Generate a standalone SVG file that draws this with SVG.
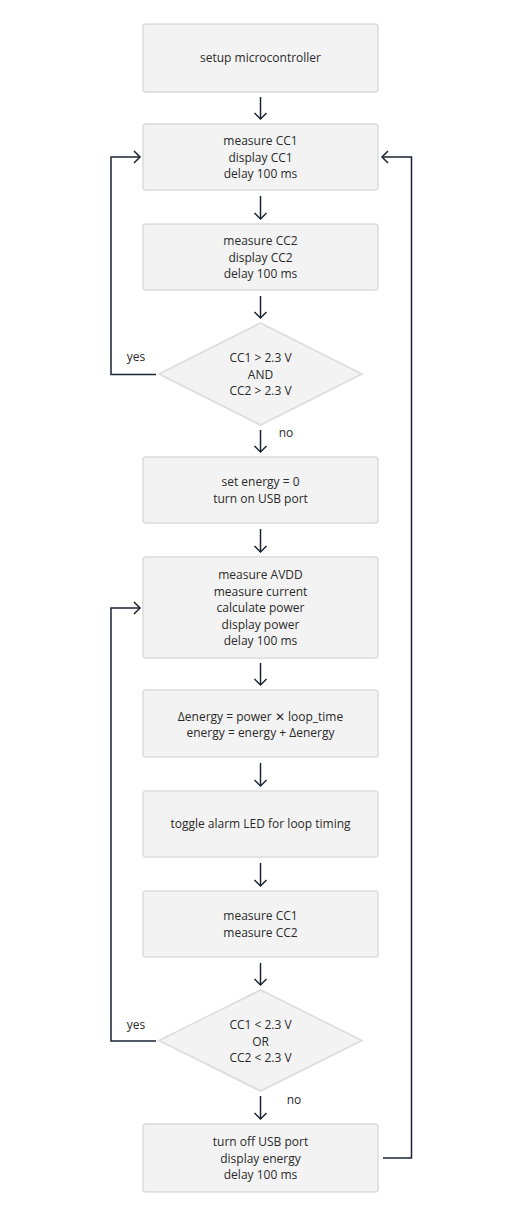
<svg xmlns="http://www.w3.org/2000/svg" width="518" height="1222" viewBox="0 0 518 1222">
<style>
.box{fill:#f3f3f3;stroke:#dcdcdc;stroke-width:1.6}
.t{font-family:"Open Sans","Noto Sans",sans-serif;font-size:12px;fill:#2a2a2a;text-anchor:middle}
.l{fill:none;stroke:#1b2433;stroke-width:1.5}
</style>
<defs>
<marker id="ah" markerUnits="userSpaceOnUse" markerWidth="16" markerHeight="16" viewBox="-8 -8 16 16" refX="0" refY="0" orient="auto">
<path d="M-6,-6 L0,0 L-6,6" fill="none" stroke="#1b2433" stroke-width="1.5"/>
</marker>
</defs>
<rect width="518" height="1222" fill="#fff"/>
<g id="n1"><rect class="box" x="143" y="24" width="235" height="68" rx="3"/><text class="t" x="260.5" y="62">setup microcontroller</text></g>
<g id="n2"><rect class="box" x="143" y="124" width="235" height="66" rx="3"/><text class="t" x="260.5" y="145">measure CC1</text><text class="t" x="260.5" y="161.5">display CC1</text><text class="t" x="260.5" y="178">delay 100 ms</text></g>
<g id="n3"><rect class="box" x="143" y="224" width="235" height="66" rx="3"/><text class="t" x="260.5" y="245">measure CC2</text><text class="t" x="260.5" y="261.5">display CC2</text><text class="t" x="260.5" y="278">delay 100 ms</text></g>
<g id="d1"><polygon class="box" points="260.5,323 362,374 260.5,425 159,374"/><text class="t" x="260.5" y="362">CC1 &gt; 2.3 V</text><text class="t" x="260.5" y="378.5">AND</text><text class="t" x="260.5" y="395">CC2 &gt; 2.3 V</text></g>
<g id="n4"><rect class="box" x="143" y="457" width="235" height="66" rx="3"/><text class="t" x="260.5" y="486">set energy = 0</text><text class="t" x="260.5" y="502.5">turn on USB port</text></g>
<g id="n5"><rect class="box" x="143" y="557" width="235" height="101" rx="3"/><text class="t" x="260.5" y="579">measure AVDD</text><text class="t" x="260.5" y="595.5">measure current</text><text class="t" x="260.5" y="612">calculate power</text><text class="t" x="260.5" y="628.5">display power</text><text class="t" x="260.5" y="645">delay 100 ms</text></g>
<g id="n6"><rect class="box" x="143" y="690" width="235" height="67" rx="3"/><text class="t" x="260.5" y="720.5">Δenergy = power ✕ loop_time</text><text class="t" x="260.5" y="737">energy = energy + Δenergy</text></g>
<g id="n7"><rect class="box" x="143" y="791" width="235" height="66" rx="3"/><text class="t" x="260.5" y="828">toggle alarm LED for loop timing</text></g>
<g id="n8"><rect class="box" x="143" y="891" width="235" height="66" rx="3"/><text class="t" x="260.5" y="920">measure CC1</text><text class="t" x="260.5" y="936.5">measure CC2</text></g>
<g id="d2"><polygon class="box" points="260.5,990 362,1040.5 260.5,1091 159,1040.5"/><text class="t" x="260.5" y="1029">CC1 &lt; 2.3 V</text><text class="t" x="260.5" y="1045.5">OR</text><text class="t" x="260.5" y="1062">CC2 &lt; 2.3 V</text></g>
<g id="n9"><rect class="box" x="143" y="1124" width="235" height="68" rx="3"/><text class="t" x="260.5" y="1146">turn off USB port</text><text class="t" x="260.5" y="1162.5">display energy</text><text class="t" x="260.5" y="1179">delay 100 ms</text></g>
<g id="connectors">
<line class="l" x1="260.5" y1="97" x2="260.5" y2="119" marker-end="url(#ah)"/>
<line class="l" x1="260.5" y1="196" x2="260.5" y2="219" marker-end="url(#ah)"/>
<line class="l" x1="260.5" y1="296" x2="260.5" y2="318" marker-end="url(#ah)"/>
<line class="l" x1="260.5" y1="430" x2="260.5" y2="452" marker-end="url(#ah)"/>
<line class="l" x1="260.5" y1="529" x2="260.5" y2="552" marker-end="url(#ah)"/>
<line class="l" x1="260.5" y1="663" x2="260.5" y2="685" marker-end="url(#ah)"/>
<line class="l" x1="260.5" y1="763" x2="260.5" y2="786" marker-end="url(#ah)"/>
<line class="l" x1="260.5" y1="863" x2="260.5" y2="886" marker-end="url(#ah)"/>
<line class="l" x1="260.5" y1="963" x2="260.5" y2="985" marker-end="url(#ah)"/>
<line class="l" x1="260.5" y1="1096" x2="260.5" y2="1119" marker-end="url(#ah)"/>
<polyline class="l" points="156,374.5 111,374.5 111,157 140,157" marker-end="url(#ah)"/>
<polyline class="l" points="156,1041 111,1041 111,608 140,608" marker-end="url(#ah)"/>
<polyline class="l" points="383,1158 411.5,1158 411.5,157 382,157" marker-end="url(#ah)"/>
<text class="t" x="136" y="361">yes</text>
<text class="t" x="286" y="437">no</text>
<text class="t" x="136" y="1029">yes</text>
<text class="t" x="294" y="1104">no</text>
</g>
</svg>
